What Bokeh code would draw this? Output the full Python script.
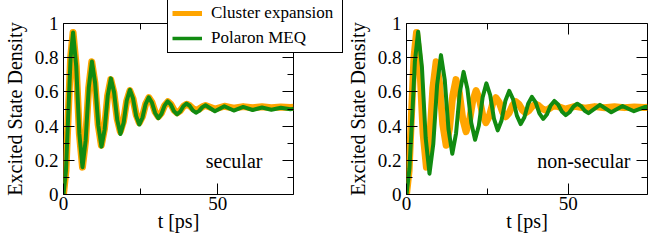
from bokeh.plotting import figure
from bokeh.models import (Range1d, FixedTicker, LinearAxis, Legend, LegendItem,
                          Label, ColumnDataSource, GridBox)
from bokeh.embed import file_html
from bokeh.resources import INLINE

# ---------------- data ----------------
# Cluster expansion (same in both panels)
t_cluster = [0, 0.8, 1.5, 2.3, 3.1,
             4.12, 5.13, 6.15,
             7.15, 8.15, 9.15,
             10.18, 11.22, 12.25,
             13.27, 14.28, 15.3,
             16.33, 17.37, 18.4,
             19.43, 20.47, 21.5,
             22.52, 23.53, 24.55,
             25.58, 26.62, 27.65,
             28.67, 29.68, 30.7,
             31.73, 32.77, 33.8,
             34.8, 35.8, 36.8,
             37.83, 38.87, 39.9,
             40.9, 41.9, 42.9,
             43.93, 44.97, 46.0,
             49.05, 52.1, 55.15, 58.2, 61.25, 64.3, 67.35, 70.4, 73.5, 74.5]
rho_cluster = [0, 0.14, 0.45, 0.80, 0.948,
               0.751, 0.357, 0.160,
               0.314, 0.622, 0.776,
               0.654, 0.410, 0.288,
               0.384, 0.576, 0.672,
               0.596, 0.444, 0.368,
               0.428, 0.547, 0.607,
               0.560, 0.467, 0.420,
               0.457, 0.530, 0.566,
               0.538, 0.483, 0.455,
               0.477, 0.521, 0.543,
               0.527, 0.494, 0.478,
               0.491, 0.516, 0.528,
               0.519, 0.502, 0.493,
               0.500, 0.513, 0.520,
               0.500, 0.516, 0.505, 0.514, 0.507, 0.513, 0.508, 0.512, 0.509, 0.510]

# Polaron MEQ, secular
t_meq_sec = [0, 0.8, 1.5, 2.3, 3.1,
             4.12, 5.13, 6.15,
             7.17, 8.18, 9.2,
             10.23, 11.27, 12.3,
             13.32, 14.33, 15.35,
             16.38, 17.42, 18.45,
             19.47, 20.48, 21.5,
             22.52, 23.53, 24.55,
             25.57, 26.58, 27.6,
             28.63, 29.67, 30.7,
             31.72, 32.73, 33.75,
             34.77, 35.78, 36.8,
             37.82, 38.83, 39.85,
             40.87, 41.88, 42.9,
             43.93, 44.97, 46.0,
             49.05, 52.1, 55.15, 58.2, 61.25, 64.3, 67.35, 70.4, 73.5, 74.5]
rho_meq_sec = [0, 0.14, 0.45, 0.80, 0.948,
               0.751, 0.357, 0.160,
               0.315, 0.624, 0.778,
               0.654, 0.405, 0.280,
               0.380, 0.579, 0.679,
               0.598, 0.435, 0.354,
               0.419, 0.548, 0.613,
               0.562, 0.460, 0.409,
               0.449, 0.528, 0.568,
               0.538, 0.477, 0.446,
               0.471, 0.520, 0.545,
               0.526, 0.488, 0.469,
               0.485, 0.516, 0.532,
               0.519, 0.492, 0.478,
               0.489, 0.511, 0.522,
               0.487, 0.516, 0.491, 0.512, 0.494, 0.509, 0.496, 0.507, 0.498, 0.502]

# Polaron MEQ, non-secular
t_meq_nonsec = [0, 0.9, 1.75, 2.6, 3.6,
                4.77, 5.93, 7.1,
                8.28, 9.47, 10.65,
                11.82, 12.98, 14.15,
                15.32, 16.48, 17.65,
                18.83, 20.02, 21.2,
                22.37, 23.53, 24.7,
                25.87, 27.03, 28.2,
                29.38, 30.57, 31.75,
                32.93, 34.12, 35.3,
                36.45, 37.6, 38.75,
                39.92, 41.08, 42.25,
                43.4, 44.55, 45.7,
                46.87, 48.03, 49.2,
                50.4, 51.6, 52.8,
                53.95, 55.1, 56.25,
                59.8, 63.3, 66.8, 70.3, 73.8, 74.5]
rho_meq_nonsec = [0, 0.15, 0.45, 0.78, 0.952,
                  0.745, 0.330, 0.122,
                  0.295, 0.642, 0.815,
                  0.671, 0.382, 0.238,
                  0.358, 0.597, 0.717,
                  0.618, 0.419, 0.320,
                  0.403, 0.568, 0.650,
                  0.581, 0.444, 0.375,
                  0.433, 0.548, 0.606,
                  0.558, 0.461, 0.412,
                  0.452, 0.531, 0.571,
                  0.539, 0.474, 0.442,
                  0.468, 0.521, 0.547,
                  0.526, 0.485, 0.464,
                  0.481, 0.514, 0.531,
                  0.517, 0.490, 0.476,
                  0.524, 0.481, 0.517, 0.487, 0.512, 0.511]

x_major = [0, 50]
x_minor = [25, 75]
y_major = [0, 0.2, 0.4, 0.6, 0.8, 1]
y_minor = [0.1, 0.3, 0.5, 0.7, 0.9]
y_tick_labels = ["0", "0.2", "0.4", "0.6", "0.8", "1"]
series_names = ["Cluster expansion", "Polaron MEQ"]
panel_names = ["secular", "non-secular"]
x_title = "t [ps]"
y_title = "Excited State Density"

ORANGE = "#ffa500"
GREEN = "#118b11"
FONT = "Liberation Serif"
H = 248


def make_panel(width, left, right, t_green, rho_green, tag, tag_x):
    p = figure(width=width, height=H, output_backend="svg", toolbar_location=None,
               x_range=Range1d(0, 74.5), y_range=Range1d(0, 1),
               min_border_left=left, min_border_right=right,
               min_border_top=23, min_border_bottom=H - 23 - 171)
    p.grid.visible = False
    p.background_fill_color = "white"
    p.border_fill_color = "white"
    p.outline_line_color = "black"
    p.outline_line_width = 1

    xt = FixedTicker(ticks=x_major, minor_ticks=x_minor)
    yt = FixedTicker(ticks=y_major, minor_ticks=y_minor)
    p.xaxis.ticker = xt
    p.yaxis.ticker = yt
    p.yaxis.major_label_overrides = {v: s for v, s in zip(y_major, y_tick_labels)}

    for ax in (p.xaxis[0], p.yaxis[0]):
        ax.axis_line_color = None
        ax.major_tick_in = 11
        ax.major_tick_out = 0
        ax.minor_tick_in = 6
        ax.minor_tick_out = 0
        ax.major_tick_line_color = "black"
        ax.minor_tick_line_color = "black"
        ax.major_label_text_font = FONT
        ax.major_label_text_font_size = "19px"
        ax.major_label_text_color = "black"
        ax.axis_label_text_font = FONT
        ax.axis_label_text_font_size = "20px"
        ax.axis_label_text_font_style = "normal"
        ax.axis_label_text_color = "black"
    p.xaxis.major_label_standoff = 2
    p.yaxis.major_label_standoff = 5
    p.xaxis.axis_label = x_title
    p.yaxis.axis_label = y_title
    p.xaxis.axis_label_standoff = -3
    p.yaxis.axis_label_standoff = 6

    for side, tk in (("right", yt), ("above", xt)):
        ax = LinearAxis(ticker=tk, axis_line_color=None,
                        major_tick_in=11, major_tick_out=0,
                        minor_tick_in=6, minor_tick_out=0,
                        major_tick_line_color="black", minor_tick_line_color="black",
                        major_label_text_font_size="0px",
                        major_label_text_color=None, major_label_standoff=0)
        p.add_layout(ax, side)

    src_c = ColumnDataSource(dict(t=t_cluster, rho=rho_cluster))
    src_g = ColumnDataSource(dict(t=t_green, rho=rho_green))
    p.line("t", "rho", source=src_c, line_color=ORANGE, line_width=7, line_join="round")
    p.line("t", "rho", source=src_g, line_color=GREEN, line_width=4, line_join="round")

    p.add_layout(Label(x=tag_x, y=0.194, text=tag, text_font=FONT,
                       text_font_size="20px", text_color="black",
                       text_align="left", text_baseline="alphabetic"))
    return p


W1 = 343
p1 = make_panel(W1, 61, 50, t_meq_sec, rho_meq_sec, panel_names[0], 46.1)
p2 = make_panel(309, 53, 5, t_meq_nonsec, rho_meq_nonsec, panel_names[1], 40.4)

# transparent overlay figure (same grid cell as p1) that carries the shared legend;
# its own copies of the series lie outside its view range, only the legend shows
lf = figure(width=W1, height=H, output_backend="svg", toolbar_location=None,
            x_range=Range1d(-3, -2), y_range=Range1d(0, 1),
            x_axis_location=None, y_axis_location=None,
            min_border=0, min_border_left=0, min_border_right=0,
            min_border_top=0, min_border_bottom=0)
lf.frame_align = False
lf.grid.visible = False
lf.outline_line_color = None
lf.background_fill_color = None
lf.border_fill_color = None
r1 = lf.line(t_cluster, rho_cluster, line_color=ORANGE, line_width=5)
r2 = lf.line(t_meq_sec, rho_meq_sec, line_color=GREEN, line_width=3.5)
leg = Legend(items=[LegendItem(label=series_names[0], renderers=[r1]),
                    LegendItem(label=series_names[1], renderers=[r2])],
             location=(167, H - 4 - 49), margin=0, padding=4, spacing=5,
             glyph_width=30, glyph_height=18, label_height=18,
             label_width=127, label_standoff=9,
             label_text_font=FONT, label_text_font_size="17px",
             label_text_color="black",
             border_line_color="black", border_line_width=1, border_line_alpha=1,
             background_fill_color="white", background_fill_alpha=1)
lf.add_layout(leg, "center")

layout = GridBox(children=[(p1, 0, 0), (p2, 0, 1), (lf, 0, 0)], spacing=0)
open("out.html", "w").write(file_html(layout, INLINE))
